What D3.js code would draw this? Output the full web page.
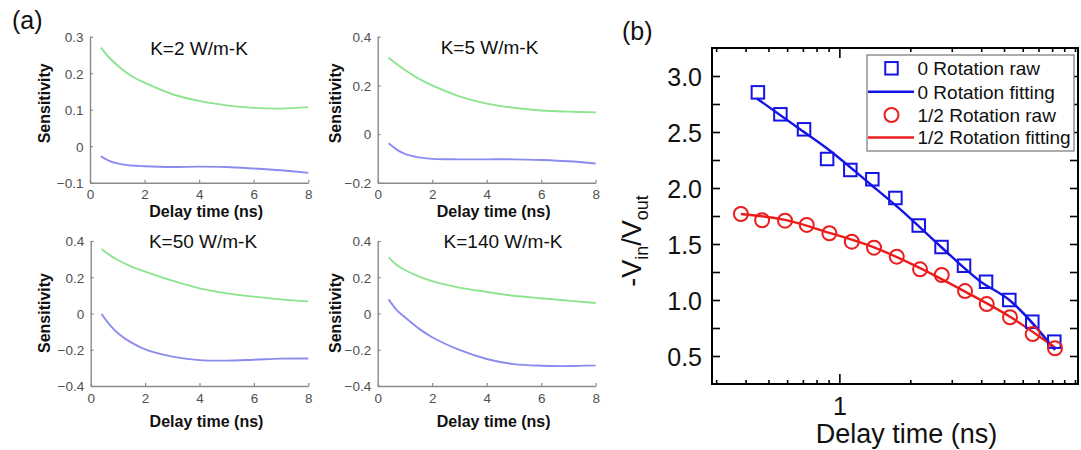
<!DOCTYPE html>
<html>
<head>
<meta charset="utf-8">
<script src="https://cdn.jsdelivr.net/npm/d3@7"></script>
<style>
  body { margin: 0; background: #fff; }
  svg { display: block; font-family: Arial, "Liberation Sans", "Helvetica", sans-serif; }
</style>
</head>
<body>
<svg id="chart" width="1081" height="450"></svg>
<script>
// ---------- Panel (a): sensitivity vs delay time ----------
const delayGrid = [0.4, 0.7, 1, 1.5, 2, 3, 4, 5, 6, 7, 8];
const sensTitles = ["K=2 W/m-K", "K=5 W/m-K", "K=50 W/m-K", "K=140 W/m-K"];
const sensYDomains = [[-0.1, 0.3], [-0.2, 0.4], [-0.4, 0.4], [-0.4, 0.4]];
const sensYTicks = [[-0.1, 0, 0.1, 0.2, 0.3], [-0.2, 0, 0.2, 0.4], [-0.4, -0.2, 0, 0.2, 0.4], [-0.4, -0.2, 0, 0.2, 0.4]];
const sensXTicks = [0, 2, 4, 6, 8];

const greenK2   = [0.270, 0.243, 0.222, 0.193, 0.174, 0.143, 0.124, 0.112, 0.105, 0.103, 0.107];
const blueK2    = [-0.028, -0.040, -0.047, -0.053, -0.055, -0.057, -0.056, -0.057, -0.061, -0.066, -0.073];
const greenK5   = [0.314, 0.288, 0.263, 0.228, 0.200, 0.155, 0.125, 0.108, 0.097, 0.092, 0.089];
const blueK5    = [-0.038, -0.064, -0.082, -0.096, -0.102, -0.104, -0.104, -0.104, -0.107, -0.112, -0.121];
const greenK50  = [0.356, 0.322, 0.295, 0.259, 0.231, 0.181, 0.139, 0.111, 0.093, 0.078, 0.067];
const blueK50   = [-0.003, -0.063, -0.109, -0.161, -0.198, -0.238, -0.257, -0.260, -0.255, -0.249, -0.248];
const greenK140 = [0.310, 0.268, 0.240, 0.205, 0.179, 0.143, 0.119, 0.098, 0.084, 0.071, 0.058];
const blueK140  = [0.078, 0.019, -0.021, -0.082, -0.131, -0.201, -0.251, -0.279, -0.288, -0.290, -0.286];

// ---------- Panel (b): -Vin/Vout vs delay time (log axis) ----------
const rawDelay0    = [0.451, 0.562, 0.708, 0.887, 1.113, 1.380, 1.729, 2.172, 2.714, 3.381, 4.193, 5.264, 6.590, 8.171];
const rawRatio0    = [2.854, 2.658, 2.524, 2.259, 2.161, 2.078, 1.911, 1.665, 1.473, 1.306, 1.163, 1.000, 0.806, 0.628];
const rawDelayHalf = [0.382, 0.470, 0.588, 0.727, 0.907, 1.129, 1.403, 1.752, 2.200, 2.720, 3.415, 4.221, 5.300, 6.615, 8.227];
const rawRatioHalf = [1.768, 1.712, 1.708, 1.670, 1.596, 1.521, 1.467, 1.387, 1.274, 1.223, 1.080, 0.964, 0.846, 0.696, 0.569];
const fitDelay0    = [0.446, 0.681, 0.887, 1.350, 1.809, 2.674, 3.954, 5.264, 8.227];
const fitRatio0    = [2.800, 2.525, 2.353, 2.036, 1.811, 1.482, 1.168, 1.000, 0.554];
const fitDelayHalf = [0.382, 0.588, 0.907, 1.403, 2.200, 3.415, 5.300, 8.227];
const fitRatioHalf = [1.768, 1.715, 1.600, 1.470, 1.285, 1.075, 0.850, 0.575];
const ratioTicks   = [0.5, 1.0, 1.5, 2.0, 2.5, 3.0];
const legendLabels = ["0 Rotation raw", "0 Rotation fitting", "1/2 Rotation raw", "1/2 Rotation fitting"];

const svg = d3.select("#chart");
svg.append("rect").attr("width", 1081).attr("height", 450).attr("fill", "#fff");

const GREEN = "#8ee48e", PURPLE = "#8c8cf0";
const AX_GRAY = "#8a8a8a", TXT_GRAY = "#505050";

const sensSeries = [
  [greenK2, blueK2], [greenK5, blueK5], [greenK50, blueK50], [greenK140, blueK140]
];

const sensLayout = [
  { x0: 90,    x1: 308.3, y0: 36.7, y1: 182.7, tx: 199,   ty: 55,    lx: 50,    ly: 103.3, xb: 217, tb: 199 },
  { x0: 377.7, x1: 595.7, y0: 36.7, y1: 182.7, tx: 489.5, ty: 53.5,  lx: 340.7, ly: 103.3, xb: 217, tb: 199 },
  { x0: 90.7,  x1: 308.3, y0: 241,  y1: 386,   tx: 203,   ty: 248.3, lx: 50,    ly: 313,   xb: 427, tb: 403 },
  { x0: 377.7, x1: 595.7, y0: 241,  y1: 386,   tx: 503,   ty: 248.3, lx: 340.7, ly: 313,   xb: 427, tb: 403 }
];

const fmtA = d3.format("~g");

sensLayout.forEach((L, i) => {
  const g = svg.append("g");
  const x = d3.scaleLinear().domain([0, 8]).range([L.x0, L.x1]);
  const y = d3.scaleLinear().domain(sensYDomains[i]).range([L.y1, L.y0]);

  const xAxis = g.append("g").attr("transform", `translate(0,${L.y1})`)
    .call(d3.axisBottom(x).tickValues(sensXTicks).tickSizeInner(-3).tickSizeOuter(0).tickFormat(fmtA));
  const yAxis = g.append("g").attr("transform", `translate(${L.x0},0)`)
    .call(d3.axisLeft(y).tickValues(sensYTicks[i]).tickSizeInner(-3).tickSizeOuter(0).tickFormat(fmtA));

  [xAxis, yAxis].forEach(a => {
    a.select(".domain").attr("stroke", AX_GRAY).attr("stroke-width", 1.4);
    a.selectAll(".tick line").attr("stroke", AX_GRAY).attr("stroke-width", 1.2);
    a.selectAll(".tick text").attr("fill", TXT_GRAY).attr("font-size", 13.5)
      .attr("font-family", "Arial, 'Liberation Sans', sans-serif");
  });
  xAxis.selectAll(".tick text").attr("y", L.tb - L.y1).attr("dy", 0);
  yAxis.selectAll(".tick text").attr("x", -6.5).attr("dy", "0.36em");

  const line = d3.line().x((d, k) => x(delayGrid[k])).y(d => y(d)).curve(d3.curveCatmullRom.alpha(0.5));
  g.append("path").datum(sensSeries[i][0]).attr("d", line)
    .attr("fill", "none").attr("stroke", GREEN).attr("stroke-width", 1.9);
  g.append("path").datum(sensSeries[i][1]).attr("d", line)
    .attr("fill", "none").attr("stroke", PURPLE).attr("stroke-width", 1.9);

  g.append("text").attr("x", L.tx).attr("y", L.ty).attr("text-anchor", "middle")
    .attr("font-size", 19).attr("fill", "#111").text(sensTitles[i]);

  g.append("text").attr("transform", `translate(${L.lx},${L.ly}) rotate(-90)`)
    .attr("text-anchor", "middle").attr("font-size", 16).attr("font-weight", "bold")
    .attr("fill", "#111").text("Sensitivity");

  g.append("text").attr("x", (L.x0 + L.x1) / 2 + 7).attr("y", L.xb).attr("text-anchor", "middle")
    .attr("font-size", 16).attr("font-weight", "bold").attr("fill", "#111").text("Delay time (ns)");
});

svg.append("text").attr("x", 12).attr("y", 29).attr("font-size", 25).attr("fill", "#111").text("(a)");
svg.append("text").attr("x", 622).attr("y", 40).attr("font-size", 25).attr("fill", "#111").text("(b)");

// ---------- Panel (b) ----------
const B = { x0: 712, x1: 1078, y0: 48, y1: 384 };
const bx = d3.scaleLog().domain([0.288, 10.3]).range([B.x0, B.x1]);
const by = d3.scaleLinear().domain([0.25, 3.25]).range([B.y1, B.y0]);
const BLUE = "#1414e6", RED = "#ec1c1c";

const gb = svg.append("g");
const logTicks = bx.ticks();
const yMinor = d3.range(0.5, 3.01, 0.25);

function styleB(a) {
  a.select(".domain").remove();
  a.selectAll(".tick line").attr("stroke", "#000").attr("stroke-width", 1.6);
  a.selectAll(".tick text").attr("fill", "#111").attr("font-size", 25)
    .attr("font-family", "Arial, 'Liberation Sans', sans-serif");
}

const bBottom = gb.append("g").attr("transform", `translate(0,${B.y1})`)
  .call(d3.axisBottom(bx).tickValues(logTicks).tickSizeInner(-4).tickSizeOuter(0)
    .tickFormat(d => d === 1 ? "1" : ""));
styleB(bBottom);
bBottom.selectAll(".tick line").filter(d => d === 1).attr("y2", -10);
bBottom.selectAll(".tick text").attr("y", 31).attr("dy", 0);

const bTop = gb.append("g").attr("transform", `translate(0,${B.y0})`)
  .call(d3.axisTop(bx).tickValues(logTicks).tickSizeInner(-4).tickSizeOuter(0).tickFormat(""));
styleB(bTop);
bTop.selectAll(".tick line").filter(d => d === 1).attr("y2", 10);

const bLeft = gb.append("g").attr("transform", `translate(${B.x0},0)`)
  .call(d3.axisLeft(by).tickValues(yMinor).tickSizeInner(-8).tickSizeOuter(0)
    .tickFormat(d => ratioTicks.includes(+d.toFixed(2)) ? d3.format(".1f")(d) : ""));
styleB(bLeft);
bLeft.selectAll(".tick text").attr("x", -10).attr("dy", "0.36em");

const bRight = gb.append("g").attr("transform", `translate(${B.x1},0)`)
  .call(d3.axisRight(by).tickValues(yMinor).tickSizeInner(-8).tickSizeOuter(0).tickFormat(""));
styleB(bRight);

gb.append("rect").attr("x", B.x0).attr("y", B.y0).attr("width", B.x1 - B.x0).attr("height", B.y1 - B.y0)
  .attr("fill", "none").attr("stroke", "#000").attr("stroke-width", 2);

const fitLine = d3.line().x(d => bx(d[0])).y(d => by(d[1])).curve(d3.curveMonotoneX);
gb.append("path").datum(d3.zip(fitDelay0, fitRatio0)).attr("d", fitLine)
  .attr("fill", "none").attr("stroke", BLUE).attr("stroke-width", 2.4);
gb.append("path").datum(d3.zip(fitDelayHalf, fitRatioHalf)).attr("d", fitLine)
  .attr("fill", "none").attr("stroke", RED).attr("stroke-width", 2.4);

const SQ = 12.5;
gb.selectAll(".sq").data(d3.zip(rawDelay0, rawRatio0)).join("rect")
  .attr("x", d => bx(d[0]) - SQ / 2).attr("y", d => by(d[1]) - SQ / 2)
  .attr("width", SQ).attr("height", SQ)
  .attr("fill", "none").attr("stroke", BLUE).attr("stroke-width", 2);
gb.selectAll(".ci").data(d3.zip(rawDelayHalf, rawRatioHalf)).join("circle")
  .attr("cx", d => bx(d[0])).attr("cy", d => by(d[1])).attr("r", 7)
  .attr("fill", "none").attr("stroke", RED).attr("stroke-width", 2);

// legend
const lg = gb.append("g");
lg.append("rect").attr("x", 867).attr("y", 55).attr("width", 207).attr("height", 96)
  .attr("fill", "#fff").attr("stroke", "#777").attr("stroke-width", 1.2);
const rowY = [68.3, 91.7, 115, 137.5];
lg.append("rect").attr("x", 891.5 - SQ / 2).attr("y", rowY[0] - SQ / 2).attr("width", SQ).attr("height", SQ)
  .attr("fill", "none").attr("stroke", BLUE).attr("stroke-width", 2);
lg.append("line").attr("x1", 868).attr("x2", 914).attr("y1", rowY[1]).attr("y2", rowY[1])
  .attr("stroke", BLUE).attr("stroke-width", 2.4);
lg.append("circle").attr("cx", 891.5).attr("cy", rowY[2]).attr("r", 7)
  .attr("fill", "none").attr("stroke", RED).attr("stroke-width", 2);
lg.append("line").attr("x1", 868).attr("x2", 914).attr("y1", rowY[3]).attr("y2", rowY[3])
  .attr("stroke", RED).attr("stroke-width", 2.4);
lg.selectAll(".lt").data(legendLabels).join("text")
  .attr("x", 917.5).attr("y", (d, k) => rowY[k]).attr("dy", "0.36em")
  .attr("font-size", 19).attr("fill", "#111").text(d => d);

// axis titles
const yl = gb.append("text").attr("transform", "translate(641,241) rotate(-90)")
  .attr("text-anchor", "middle").attr("font-size", 27).attr("fill", "#111");
yl.append("tspan").text("-V");
yl.append("tspan").attr("font-size", 18).attr("dy", 7).text("in");
yl.append("tspan").attr("dy", -7).text("/V");
yl.append("tspan").attr("font-size", 18).attr("dy", 7).text("out");

gb.append("text").attr("x", 906.5).attr("y", 443).attr("text-anchor", "middle")
  .attr("font-size", 27).attr("fill", "#111").text("Delay time (ns)");
</script>
</body>
</html>
